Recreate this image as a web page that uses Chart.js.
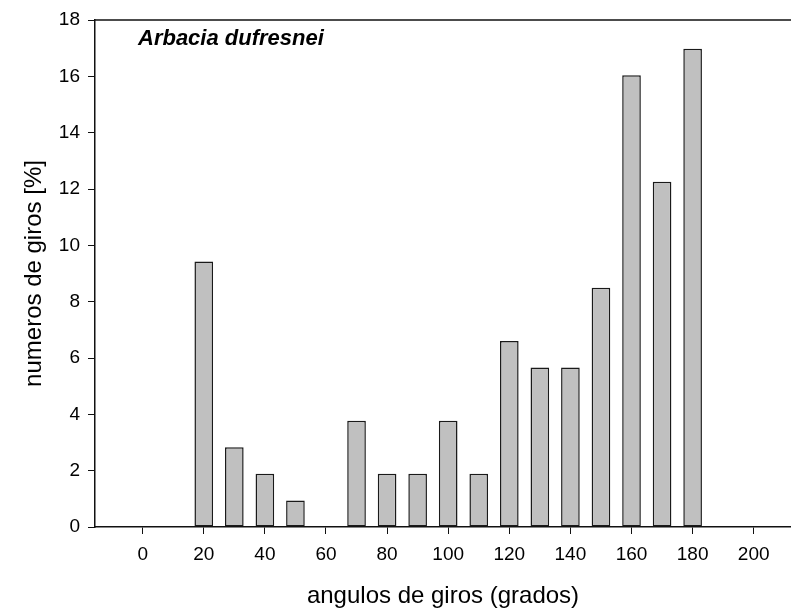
<!DOCTYPE html>
<html>
<head>
<meta charset="utf-8">
<script src="https://cdn.jsdelivr.net/npm/chart.js@4/dist/chart.umd.min.js"></script>
<style>
  html, body { margin: 0; padding: 0; background: #fff; }
  #wrap { width: 791px; height: 614px; }
</style>
</head>
<body>
<div id="wrap"><canvas id="c" width="791" height="614"></canvas></div>
<script>
// Turning angles (degrees) and share of turns (%) for Arbacia dufresnei
const angles = [20, 30, 40, 50, 60, 70, 80, 90, 100, 110, 120, 130, 140, 150, 160, 170, 180];
const percentTurns = [9.43, 2.83, 1.89, 0.94, 0, 3.77, 1.89, 1.89, 3.77, 1.89, 6.60, 5.66, 5.66, 8.49, 16.04, 12.26, 16.98];
const xTickValues = [0, 20, 40, 60, 80, 100, 120, 140, 160, 180, 200];
const yTickValues = [0, 2, 4, 6, 8, 10, 12, 14, 16, 18];
const speciesName = 'Arbacia dufresnei';
const xTitle = 'angulos de giros (grados)';
const yTitle = 'numeros de giros [%]';

const FONT = "'Liberation Sans', Arial, Helvetica, sans-serif";
const AXIS = '#111';

// top frame line and species label inside the plot area
const framePlugin = {
  id: 'frame',
  afterDraw(chart) {
    const { ctx, chartArea } = chart;
    ctx.save();
    ctx.strokeStyle = AXIS;
    ctx.lineWidth = 1.5;
    ctx.beginPath();
    ctx.moveTo(chartArea.left, chartArea.top);
    ctx.lineTo(chartArea.right, chartArea.top);
    ctx.stroke();
    ctx.fillStyle = '#000';
    ctx.font = "italic bold 22px " + FONT;
    ctx.textBaseline = 'middle';
    ctx.textAlign = 'left';
    ctx.fillText(speciesName, chartArea.left + 43, chartArea.top + 19);
    ctx.restore();
  }
};

new Chart(document.getElementById('c'), {
  type: 'bar',
  data: {
    datasets: [{
      data: angles.map((a, i) => ({ x: a, y: percentTurns[i] })),
      backgroundColor: '#c0c0c0',
      borderColor: '#1a1a1a',
      borderWidth: 1.5,
      borderSkipped: false,
      barPercentage: 0.61,
      categoryPercentage: 1
    }]
  },
  options: {
    responsive: false,
    animation: false,
    devicePixelRatio: 1,
    layout: { padding: { top: 20, left: 0, right: 0, bottom: 0 } },
    plugins: { legend: { display: false }, tooltip: { enabled: false } },
    scales: {
      x: {
        type: 'linear',
        min: -15.6,
        max: 212.2,
        offset: false,
        afterBuildTicks(scale) { scale.ticks = xTickValues.map(v => ({ value: v })); },
        afterFit(scale) { scale.height = 87; },
        grid: { offset: false, drawOnChartArea: false, drawTicks: true, tickLength: 7, color: AXIS, lineWidth: 1 },
        border: { display: true, color: AXIS, width: 1.5 },
        ticks: { color: '#000', font: { family: FONT, size: 19 }, padding: 9, maxRotation: 0, autoSkip: false },
        title: { display: true, text: xTitle, color: '#000', font: { family: FONT, size: 24 }, padding: { top: 0, bottom: 3 } }
      },
      y: {
        min: 0,
        max: 18,
        afterBuildTicks(scale) { scale.ticks = yTickValues.map(v => ({ value: v })); },
        afterFit(scale) { scale.width = 95; },
        grid: { drawOnChartArea: false, drawTicks: true, tickLength: 7, color: AXIS, lineWidth: 1 },
        border: { display: true, color: AXIS, width: 1.5 },
        ticks: { color: '#000', font: { family: FONT, size: 19 }, padding: 8, autoSkip: false },
        title: { display: true, text: yTitle, color: '#000', font: { family: FONT, size: 24 }, padding: { top: 20, bottom: 0 } }
      }
    }
  },
  plugins: [framePlugin]
});
</script>
</body>
</html>
